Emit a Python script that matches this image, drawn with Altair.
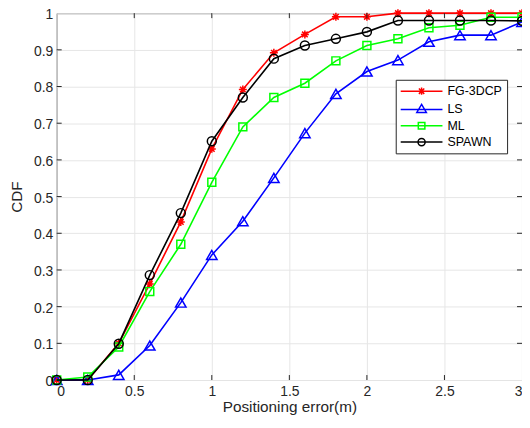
import altair as alt
import pandas as pd

# ---- data ----
x_vals = [0.0, 0.2, 0.4, 0.6, 0.8, 1.0, 1.2, 1.4, 1.6, 1.8, 2.0, 2.2, 2.4, 2.6, 2.8, 3.0]
methods = ["FG-3DCP", "LS", "ML", "SPAWN"]
fg3dcp = [0.0, 0.0, 0.10, 0.262, 0.431, 0.630, 0.792, 0.892, 0.942, 0.990, 0.990, 1.0, 1.0, 1.0, 1.0, 1.0]
ls = [0.0, 0.0, 0.014, 0.094, 0.211, 0.341, 0.433, 0.551, 0.673, 0.780, 0.841, 0.872, 0.922, 0.940, 0.940, 0.976]
ml = [0.0, 0.008, 0.090, 0.241, 0.370, 0.539, 0.690, 0.770, 0.809, 0.870, 0.912, 0.930, 0.960, 0.967, 0.989, 0.989]
spawn = [0.0, 0.0, 0.099, 0.286, 0.455, 0.651, 0.770, 0.876, 0.912, 0.930, 0.949, 0.980, 0.980, 0.980, 0.980, 0.979]
x_ticks = [0, 0.5, 1, 1.5, 2, 2.5, 3]
y_ticks = [0, 0.1, 0.2, 0.3, 0.4, 0.5, 0.6, 0.7, 0.8, 0.9, 1]
inner_x_ticks = [0.5, 1, 1.5, 2, 2.5]
inner_y_ticks = [0.1, 0.2, 0.3, 0.4, 0.5, 0.6, 0.7, 0.8, 0.9]

colors = ["#ff0000", "#0000ff", "#00ff00", "#000000"]

W, H = 468, 369
FONT = "Liberation Sans"
TXT = "#262626"

ast = "M-1,0L1,0M0,-1L0,1M-0.7,-0.7L0.7,0.7M-0.7,0.7L0.7,-0.7"
marker_shapes = [ast, "triangle-up", "square", "circle"]
marker_sizes = [64, 110, 64, 81]

# legend symbols (unit = 6px): a 42px line segment with the marker on it
leg_paths = {
    "FG-3DCP": "M-3.5,0L3.5,0M0,-0.6L0,0.6M-0.45,-0.45L0.45,0.45M-0.45,0.45L0.45,-0.45",
    "LS": "M-3.5,0L3.5,0M0,-0.85L0.8,0.5L-0.8,0.5Z",
    "ML": "M-3.5,0L3.5,0M-0.55,-0.55L0.55,-0.55L0.55,0.55L-0.55,0.55Z",
    "SPAWN": "M-3.5,0L3.5,0M0.6,0A0.6,0.6 0 1,1 -0.6,0A0.6,0.6 0 1,1 0.6,0",
}
sym_expr = (
    "datum.value === 'FG-3DCP' ? '" + leg_paths["FG-3DCP"] + "' : "
    "datum.value === 'LS' ? '" + leg_paths["LS"] + "' : "
    "datum.value === 'ML' ? '" + leg_paths["ML"] + "' : '" + leg_paths["SPAWN"] + "'"
)

xscale = alt.Scale(domain=[0, 3], nice=False, zero=False)
yscale = alt.Scale(domain=[0, 1], nice=False, zero=False)
cscale = alt.Scale(domain=methods, range=colors)

legend = alt.Legend(
    title=None,
    orient="none",
    legendX=341,
    legendY=67,
    direction="vertical",
    fillColor="white",
    strokeColor=TXT,
    padding=4.5,
    labelFont=FONT,
    labelFontSize=12.5,
    labelColor="#000000",
    labelOffset=19,
    symbolOffset=14.5,
    rowPadding=2.4,
    symbolSize=144,
    symbolStrokeWidth=1.5,
    symbolFillColor="transparent",
    symbolType=alt.ExprRef(sym_expr),
)

xaxis = alt.Axis(values=x_ticks, format="~g", title="Positioning error(m)", labelOverlap=False)
yaxis = alt.Axis(values=y_ticks, format="~g", title="CDF", labelOverlap=False)
xenc = alt.X("x:Q", scale=xscale, axis=xaxis)
yenc = alt.Y("y:Q", scale=yscale, axis=yaxis)

layers = []
for m, ys, c, shp, sz in zip(methods, [fg3dcp, ls, ml, spawn], colors, marker_shapes, marker_sizes):
    d = pd.DataFrame({"x": x_vals, "y": ys, "method": [m] * len(x_vals)})
    line = alt.Chart(d).mark_line(strokeWidth=1.6).encode(
        x=xenc, y=yenc, color=alt.Color("method:N", scale=cscale, legend=legend)
    )
    pts = alt.Chart(d).mark_point(
        filled=False, strokeWidth=1.5, opacity=1, shape=shp, size=sz, color=c
    ).encode(x=xenc, y=yenc)
    layers += [line, pts]

xt = pd.DataFrame({"x": inner_x_ticks})
yt = pd.DataFrame({"y": inner_y_ticks})
tick_style = dict(color=TXT, strokeWidth=1)
layers.append(alt.Chart(xt).mark_rule(**tick_style).encode(
    x=xenc, y=alt.value(H), y2=alt.value(H - 5)))
layers.append(alt.Chart(xt).mark_rule(**tick_style).encode(
    x=xenc, y=alt.value(0), y2=alt.value(5)))
layers.append(alt.Chart(yt).mark_rule(**tick_style).encode(
    y=yenc, x=alt.value(0), x2=alt.value(5)))
layers.append(alt.Chart(yt).mark_rule(**tick_style).encode(
    y=yenc, x=alt.value(W), x2=alt.value(W - 5)))

chart = (
    alt.layer(*layers)
    .properties(
        width=W,
        height=H,
        padding={"left": 49, "top": 4, "right": 0, "bottom": 34},
        autosize=alt.AutoSizeParams(type="none"),
        background="white",
    )
    .configure_view(stroke=TXT, strokeWidth=1)
    .configure_axis(
        domain=False,
        ticks=False,
        grid=True,
        gridColor="#e6e6e6",
        gridWidth=1,
        labelOverlap=False,
        labelFont=FONT,
        labelFontSize=14,
        labelColor=TXT,
        titleFont=FONT,
        titleFontSize=15.4,
        titleFontWeight="normal",
        titleColor=TXT,
    )
    .configure_axisX(labelPadding=5, titleBaseline="alphabetic", titleY=31.5)
    .configure_axisY(labelPadding=4, titlePadding=9, labelOffset=1.5)
)

chart.save("out.html", embed_options={"renderer": "svg", "actions": False})
